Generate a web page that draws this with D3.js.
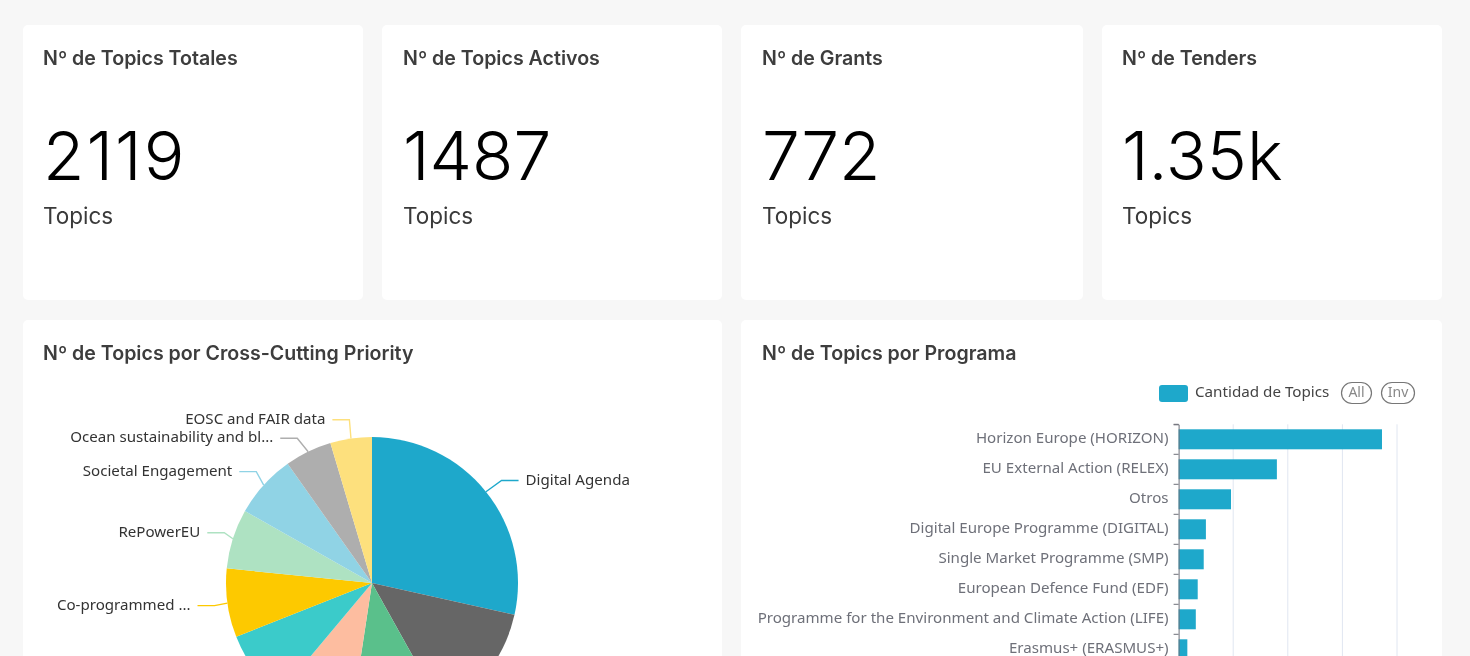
<!DOCTYPE html>
<html><head><meta charset="utf-8">
<script src="https://cdn.jsdelivr.net/npm/d3@7"></script>
<style>
html,body{margin:0;padding:0;width:1470px;height:656px;overflow:hidden;background:#f7f7f7}
svg{display:block;filter:blur(0.4px)}
</style></head><body><svg id="c" width="1470" height="656"></svg>
<script>
const kpiTitles=["Nº de Topics Totales","Nº de Topics Activos","Nº de Grants","Nº de Tenders"];
const kpiValues=["2119","1487","772","1.35k"];
const kpiUnit="Topics";
const pieTitle="Nº de Topics por Cross-Cutting Priority";
const pieLabels=["Digital Agenda","","","","","Co-programmed ...","RePowerEU","Societal Engagement","Ocean sustainability and bl...","EOSC and FAIR data"];
const pieValues=[285,134,105,87,79,76,66,70,52,46];
const pieColors=["#1ea8cb","#666666","#5ac08b","#fdbda0","#3bcbca","#fdc900","#aee2c2","#90d3e5","#aeaeae","#fde07d"];
const barTitle="Nº de Topics por Programa";
const barSeries="Cantidad de Topics";
const barCats=["Horizon Europe (HORIZON)","EU External Action (RELEX)","Otros","Digital Europe Programme (DIGITAL)","Single Market Programme (SMP)","European Defence Fund (EDF)","Programme for the Environment and Climate Action (LIFE)","Erasmus+ (ERASMUS+)"];
const barValues=[745,360,192,100,92,70,63,32];
const barTicks=[0,200,400,600,800];

const svg=d3.select("#c");
const UI="Inter, 'Noto Sans', sans-serif", CH="'Noto Sans', sans-serif";
function card(x,y,w,h){svg.append("rect").attr("x",x).attr("y",y).attr("width",w).attr("height",h).attr("rx",5).attr("fill","#fff");}
function title(t,x,y){svg.append("text").attr("x",x).attr("y",y).attr("font-family",UI).attr("font-weight",600).attr("font-size",19.6).attr("fill","#3d3d3d").text(t);}

const kx=[23,382,741,1102], kw=[340,340,342,340], pad=[20,21,21,20], numSpacing=[2,0,0,0];
kpiTitles.forEach((t,i)=>{
  const tx=kx[i]+pad[i];
  card(kx[i],25,kw[i],275);
  title(t,tx,65);
  svg.append("text").attr("x",tx).attr("y",180).attr("font-family",UI).attr("font-weight",350).attr("font-size",67.6).attr("font-kerning","none").attr("letter-spacing",numSpacing[i]).attr("fill","#000").text(kpiValues[i]);
  svg.append("text").attr("x",tx).attr("y",224).attr("font-family",UI).attr("font-weight",400).attr("font-size",22.5).attr("fill","#3a3a3a").text(kpiUnit);
});
card(23,320,699,400); card(741,320,701,400);
title(pieTitle,43,360); title(barTitle,762,360);

// Pie
const r=146, g=svg.append("g").attr("transform","translate(372,583)");
const pie=d3.pie().sort(null).value(d=>d)(pieValues);
const arc=d3.arc().innerRadius(0).outerRadius(r);
g.selectAll("path.s").data(pie).join("path").attr("class","s").attr("d",arc).attr("fill",(d,i)=>pieColors[i]);
// leader-line knee offsets beyond the radius: [horizontal, vertical]
const knee={0:[20,18],5:[13,18],6:[9,20],7:[10,20],8:[25,15],9:[11,19]};
pie.forEach((d,i)=>{
  if(!pieLabels[i])return;
  const a=(d.startAngle+d.endAngle)/2, s=Math.sin(a), c=-Math.cos(a), dir=s>=0?1:-1;
  const p0=[s*r,c*r], p1=[s*(r+knee[i][0]),c*(r+knee[i][1])], p2=[p1[0]+dir*17,p1[1]];
  g.append("path").attr("d",d3.line()([p0,p1,p2])).attr("fill","none").attr("stroke",pieColors[i]).attr("stroke-width",1.4);
  g.append("text").attr("x",p2[0]+dir*7).attr("y",p2[1]-1).attr("dy","0.35em").attr("text-anchor",dir>0?"start":"end")
   .attr("font-family",CH).attr("font-size",15.1).attr("fill","#333").text(pieLabels[i]);
});

// Bars
const x=d3.scaleLinear().domain([0,800]).range([1178.6,1397]);
const y=d3.scaleBand().domain(barCats).range([424.3,424.3+30*barCats.length]);
svg.append("g").selectAll("line").data(barTicks.slice(1)).join("line")
  .attr("x1",d=>x(d)).attr("x2",d=>x(d)).attr("y1",y.range()[0]).attr("y2",y.range()[1]).attr("stroke","#e0e6f1");
svg.selectAll("rect.b").data(barValues).join("rect").attr("class","b")
  .attr("x",x(0)).attr("y",(d,i)=>y(barCats[i])+5).attr("height",20).attr("width",d=>x(d)-x(0)).attr("fill","#1ea8cb");
const ax=svg.append("g").attr("transform",`translate(${x(0)},0)`).call(d3.axisLeft(y).tickSize(5).tickPadding(5));
ax.selectAll("path,line").attr("stroke","#6e7079");
ax.selectAll("text").attr("font-family",CH).attr("font-size",15.1).attr("fill","#6e7079").attr("dy","0.25em");
svg.selectAll(".tick line").attr("transform","translate(0,-15)");

// Legend
svg.append("rect").attr("x",1159).attr("y",385).attr("width",29).attr("height",17).attr("rx",3).attr("fill","#1ea8cb");
svg.append("text").attr("x",1195).attr("y",392).attr("dy","0.35em").attr("font-family",CH).attr("font-size",15.2).attr("fill","#444").text(barSeries);
[["All",1341,30],["Inv",1381,33]].forEach(([t,lx,w])=>{
  svg.append("rect").attr("x",lx+.5).attr("y",382.5).attr("width",w).attr("height",21).attr("rx",10.5).attr("fill","#fff").attr("stroke","#777").attr("stroke-width",1.2);
  svg.append("text").attr("x",lx+w/2+.5).attr("y",392.5).attr("dy","0.35em").attr("text-anchor","middle").attr("font-family",CH).attr("font-size",14).attr("fill","#888").text(t);
});
</script></body></html>
